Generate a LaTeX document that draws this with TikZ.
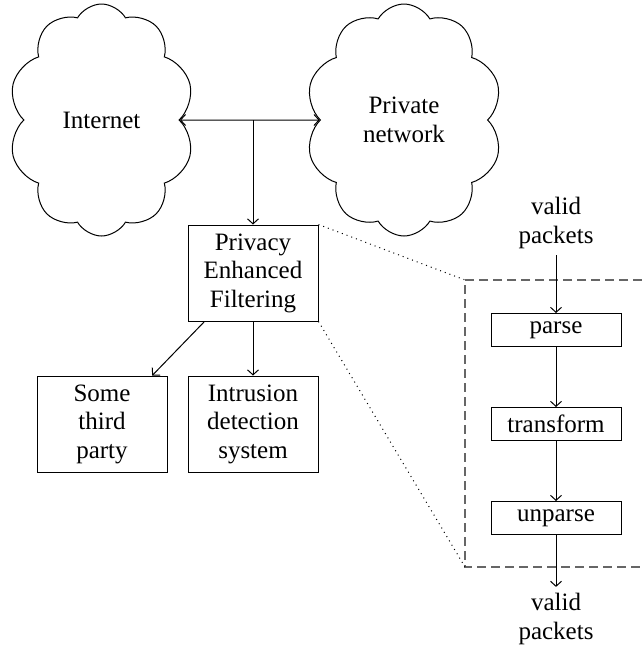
\documentclass[tikz,border=0pt]{standalone}
\usepackage{fontspec}
\setmainfont{Liberation Serif}
\usetikzlibrary{shapes.symbols,arrows.meta}

\begin{document}
\begin{tikzpicture}[x=1pt,y=-1pt,line width=1pt,
  >={Straight Barb[length=5pt,width=11pt]},
  every node/.style={font=\fontsize{25}{28.5}\selectfont,align=center},
  netcloud/.style={draw,cloud,cloud puffs=10,cloud puff arc=120,cloud ignores aspect,
    minimum height=232pt,inner sep=0pt},
  bigbox/.style={draw,minimum width=130pt,minimum height=96pt,inner sep=2pt},
  stagebox/.style={draw,minimum width=130pt,minimum height=33pt,inner sep=2pt},
  pkts/.style={inner sep=6pt}]
\useasboundingbox (0,0) rectangle (642,648);
\node[netcloud,minimum width=186pt] (inet) at (101.5,120) {Internet};
\node[netcloud,minimum width=197pt] (priv) at (404,120) {Private\\network};
\node[bigbox] (pef) at (253,273) {Privacy\\Enhanced\\Filtering};
\node[bigbox] (third) at (102,424) {Some\\third\\party};
\node[bigbox] (ids) at (253,424) {Intrusion\\detection\\system};
\coordinate (split) at (253,120);
\draw[<->] (inet) -- (priv);
\draw[->] (split) -- (pef);
\draw[->] (pef.-135) -- (third.44);
\draw[->] (pef) -- (ids);
% zoomed view of the filter
\coordinate (zoomtl) at (465,280);
\coordinate (zoombl) at (465,567);
\draw[black!60,dash pattern=on 9pt off 5pt,line width=1.2pt] (642,280) -- (zoomtl) -- (zoombl) -- (642,567);
\draw[loosely dotted] (pef.north east) -- (zoomtl);
\draw[loosely dotted] (pef.south east) -- (zoombl);
\node[pkts] (vin) at (556,223) {valid\\packets};
\node[stagebox] (parse) at (556,330) {parse};
\node[stagebox] (trans) at (556,424) {transform};
\node[stagebox] (unparse) at (556,518) {unparse};
\node[pkts] (vout) at (556,619) {valid\\packets};
\foreach \a/\b in {vin/parse,parse/trans,trans/unparse,unparse/vout}
  \draw[->] (\a) -- (\b);
\end{tikzpicture}
\end{document}
